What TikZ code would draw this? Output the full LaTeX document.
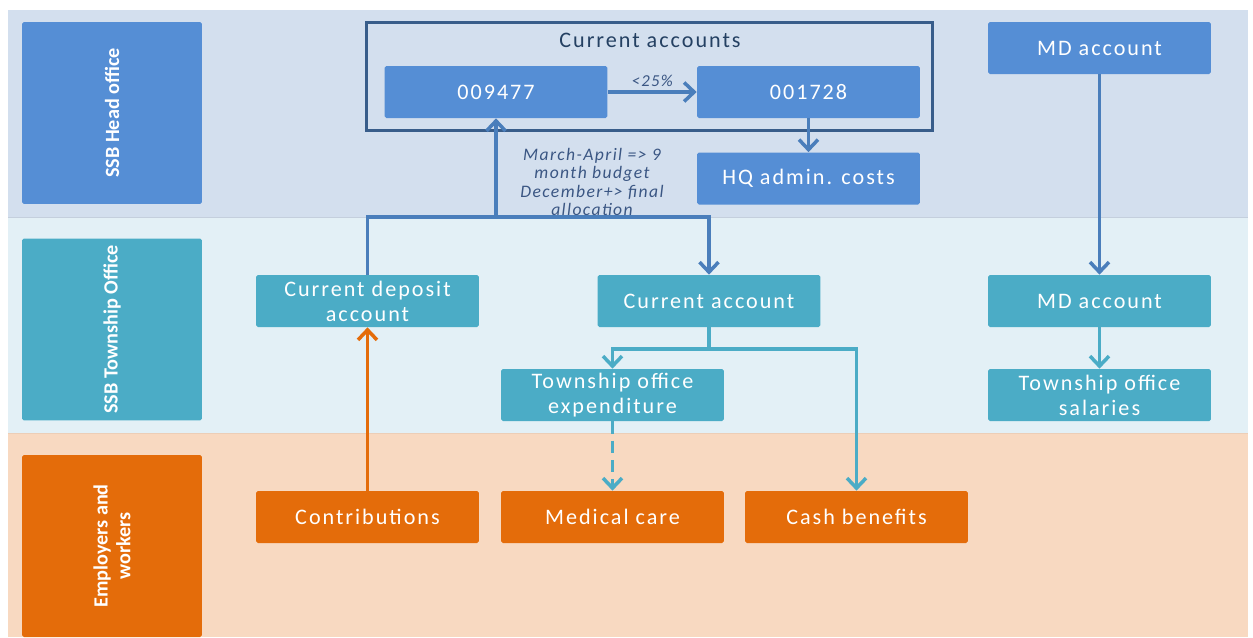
\documentclass[tikz,border=0pt]{standalone}
\usepackage{fontspec}
\setmainfont{Carlito}
\newfontfamily\boxfont[LetterSpace=9]{Carlito}
\newfontfamily\notefont[LetterSpace=8]{Carlito}
\usepackage{xcolor}
\usetikzlibrary{arrows.meta, positioning}

\definecolor{headbg}{HTML}{D3DFEE}
\definecolor{twpbg}{HTML}{E3F0F6}
\definecolor{empbg}{HTML}{F8D9C1}
\definecolor{headfill}{HTML}{558ED5}
\definecolor{twpfill}{HTML}{4BACC6}
\definecolor{empfill}{HTML}{E46C0A}
\definecolor{flowblue}{HTML}{4A7EBB}
\definecolor{framecol}{HTML}{385D8A}
\definecolor{titlecol}{HTML}{244062}
\definecolor{notecol}{HTML}{3A5683}

\begin{document}
\begin{tikzpicture}[
    x=0.02cm, y=-0.02cm,
    acct/.style={rectangle, rounded corners=1pt, text=white, minimum width=4.46cm, minimum height=1.04cm, inner sep=1pt, align=center, font=\boxfont\fontsize{12.6}{14.2}\selectfont},
    headbox/.style={acct, fill=headfill},
    twpbox/.style={acct, fill=twpfill},
    empbox/.style={acct, fill=empfill},
    sidebox/.style={rectangle, rounded corners=1pt, rotate=90, text=white, minimum width=3.64cm, minimum height=3.6cm, align=center, font=\bfseries\fontsize{11.5}{13}\selectfont},
    blueflow/.style={draw=flowblue, line width=2pt, -{Straight Barb[length=2mm, width=3.8mm]}},
    tealflow/.style={draw=twpfill, line width=2pt, -{Straight Barb[length=2mm, width=3.8mm]}},
    orangeflow/.style={draw=empfill, line width=2pt, -{Straight Barb[length=2mm, width=3.8mm]}}
]
    \useasboundingbox (0,0) rectangle (1253,637);

    % Bands
    \fill[headbg] (8,10) rectangle (1248,217);
    \fill[twpbg] (8,217) rectangle (1248,433);
    \fill[empbg] (8,433) rectangle (1248,637);
    \draw[headbg!93!black, line width=0.5pt] (8,217) -- (1248,217);
    \draw[empbg!95!black, line width=0.5pt] (8,433) -- (1248,433);

    \node[sidebox, fill=headfill] (headlab) at (112,113) {SSB Head office};
    \node[sidebox, fill=twpfill] (twplab) at (112,329.5) {SSB Township Office};
    \node[sidebox, fill=empfill] (emplab) at (112,546) {Employers and\\workers};

    % Head office
    \node[draw=framecol, line width=2pt, minimum width=11.32cm, minimum height=2.16cm] (curgrp) at (649.5,76.5) {};
    \node[text=titlecol, font=\boxfont\fontsize{12.6}{14.2}\selectfont] (curtitle) at (650,40) {Current accounts};
    \node[headbox] (acc1) at (496,92) {009477};
    \node[headbox] (acc2) at (808.5,92) {001728};
    \node[headbox] (hq) at (808.5,178.5) {HQ admin. costs};
    \node[headbox] (mdhq) at (1099.5,48) {MD account};

    % Township office
    \node[twpbox] (dep) at (367.5,301) {Current deposit\\account};
    \node[twpbox] (cur) at (709,301) {Current account};
    \node[twpbox] (mdtwp) at (1099.5,301) {MD account};
    \node[twpbox] (exp) at (612.5,395) {Township office\\expenditure};
    \node[twpbox] (sal) at (1099.5,395) {Township office\\salaries};

    % Employers and workers
    \node[empbox] (contr) at (367.5,517) {Contributions};
    \node[empbox] (med) at (612.5,517) {Medical care};
    \node[empbox] (cash) at (856.5,517) {Cash benefits};

    \node[text=notecol, align=center, font=\notefont\itshape\fontsize{10}{10.3}\selectfont] (note) at (592,182) {March-April => 9\\month budget\\December+> final\\allocation};

    % Connections
    \coordinate (junc) at (367.5,217);
    \coordinate (tsplit) at (709,349);
    \draw[blueflow] (acc1) -- node[above=-1pt, text=notecol, font=\notefont\itshape\fontsize{9.5}{10}\selectfont] {<25\%} (acc2);
    \draw[blueflow] (acc2) -- (hq);
    \draw[blueflow] (dep.north) -- (junc) -| (cur.north);
    \draw[blueflow] (acc1.south |- junc) -- (acc1.south);
    \draw[blueflow] (mdhq) -- (mdtwp);
    \draw[tealflow] (mdtwp) -- (sal);
    \draw[draw=twpfill, line width=2pt] (cur.south) -- (tsplit);
    \draw[tealflow] (tsplit) -| (exp.north);
    \draw[tealflow] (tsplit) -| (cash.north);
    \draw[tealflow, dash pattern=on 7pt off 4pt] (exp) -- (med);
    \draw[orangeflow] (contr) -- (dep);
\end{tikzpicture}
\end{document}
